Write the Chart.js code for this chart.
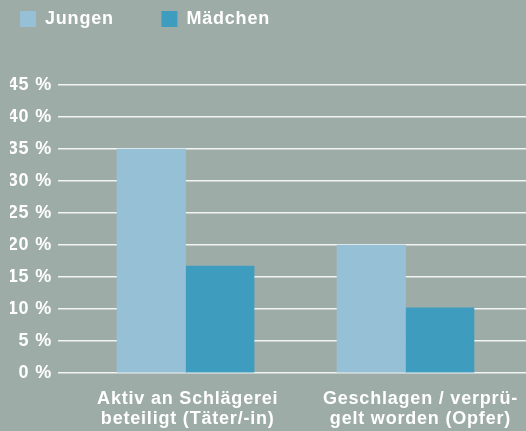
<!DOCTYPE html>
<html>
<head>
<meta charset="utf-8">
<script src="https://cdn.jsdelivr.net/npm/chart.js@4"></script>
<style>
  body { margin: 0; background: #9eaca8; }
  #wrap { width: 526px; height: 431px; }
</style>
</head>
<body>
<div id="wrap"><canvas id="chart"></canvas></div>
<script>
// values
const categories = [
    ["Aktiv an Schlägerei", "beteiligt (Täter/-in)"],
    ["Geschlagen / verprü-", "gelt worden (Opfer)"]
];
const seriesNames = ["Jungen", "Mädchen"];
const jungen = [35, 20];
const maedchen = [16.7, 10.2];
const yTicks = [0, 5, 10, 15, 20, 25, 30, 35, 40, 45];

const colors = ["#96c0d5", "#3e9cbf"];
const fontFamily = "'Liberation Sans', Arial, sans-serif";
// the second label sits a little right of its bars in the original
const labelShift = [0.01, 0.068];

// legend takes the whole band above the plot
const legendSpace = {
    id: "legendSpace",
    beforeInit(chart) {
        chart.ctx.letterSpacing = "0.8px";
        const fit = chart.legend.fit;
        chart.legend.fit = function () {
            fit.bind(chart.legend)();
            this.height = 85;
        };
    },
    beforeDraw(chart) {
        chart.ctx.letterSpacing = "0.8px";
    }
};

function toPoints(arr) {
    return arr.map((v, i) => ({ x: i, y: v }));
}

const ctx = document.getElementById("chart").getContext("2d");
const chart = new Chart(ctx, {
    type: "bar",
    data: {
        datasets: [
            { label: seriesNames[0], data: toPoints(jungen), backgroundColor: colors[0], borderWidth: 0 },
            { label: seriesNames[1], data: toPoints(maedchen), backgroundColor: colors[1], borderWidth: 0 }
        ]
    },
    plugins: [legendSpace],
    options: {
        responsive: true,
        maintainAspectRatio: false,
        animation: false,
        barThickness: 68.5,
        layout: { padding: { left: 10, right: 0, top: 0, bottom: 2 } },
        scales: {
            x: {
                type: "linear",
                offset: false,
                min: -0.58,
                max: 1.548,
                grid: { display: false, drawTicks: false },
                border: { display: false },
                afterBuildTicks(scale) {
                    scale.ticks = categories.map((c, i) => ({ value: i + labelShift[i] }));
                },
                afterFit(scale) {
                    scale.height = 56;
                },
                ticks: {
                    color: "#ffffff",
                    font: { family: fontFamily, size: 18, weight: "bold", lineHeight: 1.12 },
                    padding: 16,
                    maxRotation: 0,
                    autoSkip: false,
                    callback: function (value, index) {
                        return categories[index];
                    }
                }
            },
            y: {
                min: 0,
                max: 45,
                afterBuildTicks(scale) {
                    scale.ticks = yTicks.map(v => ({ value: v }));
                },
                afterFit(scale) {
                    scale.width = 48;
                },
                grid: { color: "#f2f4f3", lineWidth: 1.5, drawTicks: false },
                border: { display: false },
                ticks: {
                    color: "#ffffff",
                    font: { family: fontFamily, size: 18, weight: "bold" },
                    padding: 6,
                    callback: function (value) {
                        return value + " %";
                    }
                }
            }
        },
        plugins: {
            legend: {
                position: "top",
                align: "start",
                labels: {
                    boxWidth: 16,
                    boxHeight: 16,
                    padding: 10,
                    color: "#ffffff",
                    font: { family: fontFamily, size: 18, weight: "bold" },
                    generateLabels(chart) {
                        const items = Chart.defaults.plugins.legend.labels.generateLabels(chart);
                        items.forEach(it => {
                            it.text = it.text + "\u2003\u2003";
                            it.lineWidth = 0;
                        });
                        return items;
                    }
                }
            },
            tooltip: { enabled: false }
        }
    }
});
</script>
</body>
</html>
